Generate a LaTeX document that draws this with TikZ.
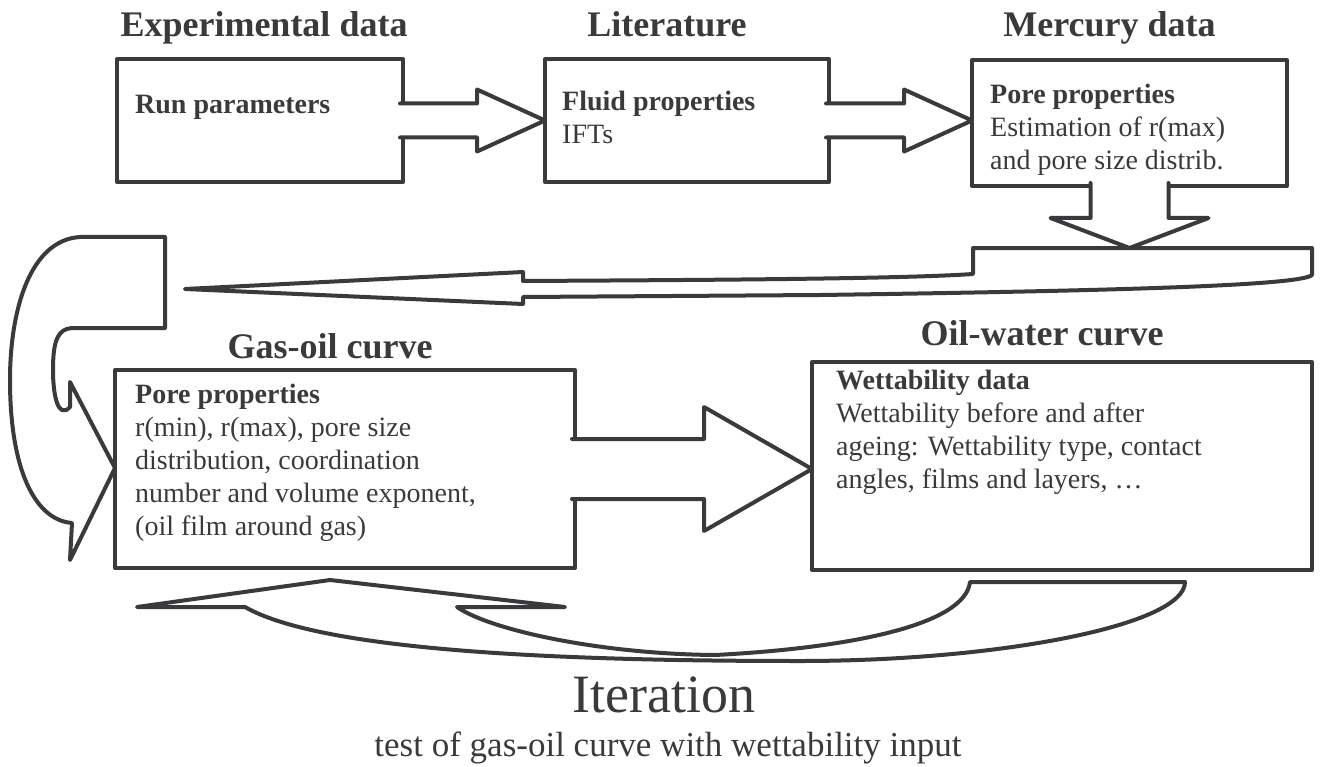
\documentclass[tikz,border=0pt]{standalone}
\usepackage{fontspec}
\setmainfont{Liberation Serif}
\usetikzlibrary{positioning,calc}
\definecolor{inkgray}{RGB}{58,58,60}
\tikzset{
  box/.style={draw=inkgray, line width=4pt, line join=round, inner sep=0pt, outer sep=0pt, anchor=north west},
  flow/.style={draw=inkgray, fill=white, line width=4pt, line join=round, line cap=round},
  txt/.style={text=inkgray, inner sep=0pt, align=left, anchor=north west, font=\fontsize{28}{33}\selectfont},
  head/.style={text=inkgray, inner sep=0pt, anchor=base, font=\fontsize{36}{40}\selectfont\bfseries}
}
% straight block arrow: start, tip, half shaft, half head, head length
\newcommand\rightblock[5]{%
  \filldraw[flow] ($(#1)+(-3,-#3)$) -- ($(#2)+(-#5,-#3)$) -- ($(#2)+(-#5,-#4)$) -- (#2)
    -- ($(#2)+(-#5,#4)$) -- ($(#2)+(-#5,#3)$) -- ($(#1)+(-3,#3)$);}
\begin{document}
\begin{tikzpicture}[x=1pt,y=-1pt]
\useasboundingbox (0,0) rectangle (1321,767);
% the five boxes
\node[box, minimum width=286pt, minimum height=123pt] (run) at (117,59) {};
\node[box, minimum width=284pt, minimum height=123pt] (fluid) at (545,59) {};
\node[box, minimum width=315pt, minimum height=126pt] (pore) at (972,60) {};
\node[box, minimum width=460pt, minimum height=198pt] (gasoil) at (115,370) {};
\node[box, minimum width=500pt, minimum height=208pt] (wett) at (812,362) {};
% headings
\node[head] (exphead) at ($(run.north)+(4,-22)$) {Experimental data};
\node[head] (lithead) at ($(fluid.north)+(-20,-22)$) {Literature};
\node[head] (merhead) at ($(pore.north)+(-20,-23)$) {Mercury data};
\node[head] (gashead) at ($(gasoil.north)+(-15,-12)$) {Gas-oil curve};
\node[head] (oilhead) at ($(wett.north)+(-20,-17)$) {Oil-water curve};
% box texts
\node[txt] (runtxt) at ($(run.north west)+(18,36)$) {\textbf{Run parameters}};
\node[txt] (fluidtxt) at ($(fluid.north west)+(17,32)$) {\textbf{Fluid properties}\\IFTs};
\node[txt] (poretxt) at ($(pore.north west)+(18,24)$) {\textbf{Pore properties}\\Estimation of r(max)\\and pore size distrib.};
\node[txt] (gasoiltxt) at ($(gasoil.north west)+(20,14)$) {\textbf{Pore properties}\\r(min), r(max), pore size\\distribution, coordination\\number and volume exponent,\\(oil film around gas)};
\node[txt] (wetttxt) at ($(wett.north west)+(24,8)$) {\textbf{Wettability data}\\Wettability before and after\\ageing: Wettability type, contact\\angles, films and layers, …};
% straight arrows
\rightblock{run.east}{fluid.west}{17}{31}{68}
\rightblock{fluid.east}{fluid.east -| pore.west}{17}{31}{68}
\rightblock{gasoil.east}{gasoil.east -| wett.west}{30}{62}{108}
% long arrow back to the left
\coordinate (merge) at (pore.south |- 0,248);
\filldraw[flow] (185,289) -- (523,272) -- (523,281) .. controls (700,280) and (900,279) .. (973,274)
  -- (973,248) -- (1312,248) -- (1312,275) .. controls (1300,286) and (1100,291) .. (820,295)
  -- (523,297) -- (523,304) -- cycle;
\filldraw[flow] ($(pore.south)+(-39,-3)$) -- ($(merge)+(-39,-30)$) -- ($(merge)+(-79,-30)$) -- (merge)
  -- ($(merge)+(79,-30)$) -- ($(merge)+(39,-30)$) -- ($(pore.south)+(39,-3)$);
% u-turn into the gas-oil box
\coordinate (uturn) at (gasoil.west |- 0,468);
\filldraw[flow] (165,237) -- (80,237) .. controls (30,240) and (10,310) .. (10,380)
  .. controls (10,470) and (35,520) .. (72,523) -- (70,560) -- (uturn) -- (70,382) -- (70,407)
  .. controls (58,420) and (53,395) .. (53,370) .. controls (53,340) and (58,329) .. (72,328)
  -- (165,328) -- cycle;
% iteration arrow
\filldraw[flow] (137,607) -- (330,580) -- (565,607) -- (457,607)
  .. controls (490,630) and (600,654) .. (715,655)
  .. controls (850,648) and (965,625) .. (970,582) -- (1185,582)
  .. controls (1185,625) and (1000,661) .. (800,661)
  .. controls (550,661) and (320,650) .. (245,607) -- cycle;
\node[text=inkgray, inner sep=0pt, anchor=base, font=\fontsize{54}{60}\selectfont] (iter) at (664,712) {Iteration};
\node[text=inkgray, inner sep=0pt, anchor=base, font=\fontsize{35}{40}\selectfont] (itertxt) at (668,756) {test of gas-oil curve with wettability input};
\end{tikzpicture}
\end{document}
